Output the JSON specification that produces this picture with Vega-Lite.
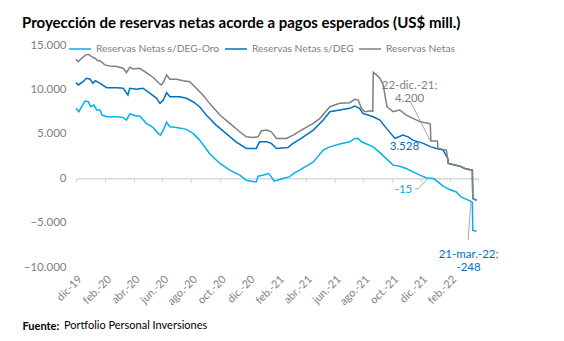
{
  "$schema": "https://vega.github.io/schema/vega-lite/v6.json",
  "width": 402,
  "height": 222,
  "autosize": {"type": "none"},
  "padding": {"left": 76, "top": 45, "right": 86, "bottom": 74},
  "background": "white",
  "config": {
    "view": {"stroke": null},
    "font": "Lato",
    "axis": {"grid": false},
    "legend": {
      "orient": "none",
      "legendY": -8,
      "direction": "horizontal",
      "title": null,
      "symbolType": "stroke",
      "symbolSize": 484,
      "symbolStrokeWidth": 1.5,
      "labelFont": "Lato",
      "labelFontSize": 10.3,
      "labelColor": "#7f7f7f",
      "labelOffset": 4
    }
  },
  "title": {
    "text": "Proyección de reservas netas acorde a pagos esperados (US$ mill.)",
    "anchor": "start",
    "frame": "group",
    "dx": -54,
    "offset": 6,
    "fontSize": 15,
    "fontWeight": "bold",
    "font": "Lato",
    "color": "#000000"
  },
  "datasets": {
    "series": [
      {"serie": "Reservas Netas", "fecha": "2019-12-01", "valor": 13400},
      {"serie": "Reservas Netas", "fecha": "2019-12-06", "valor": 13130},
      {"serie": "Reservas Netas", "fecha": "2019-12-13", "valor": 13510},
      {"serie": "Reservas Netas", "fecha": "2019-12-22", "valor": 13890},
      {"serie": "Reservas Netas", "fecha": "2019-12-27", "valor": 13960},
      {"serie": "Reservas Netas", "fecha": "2020-01-03", "valor": 13700},
      {"serie": "Reservas Netas", "fecha": "2020-01-10", "valor": 13510},
      {"serie": "Reservas Netas", "fecha": "2020-01-16", "valor": 13240},
      {"serie": "Reservas Netas", "fecha": "2020-01-21", "valor": 13240},
      {"serie": "Reservas Netas", "fecha": "2020-01-31", "valor": 12760},
      {"serie": "Reservas Netas", "fecha": "2020-02-11", "valor": 12640},
      {"serie": "Reservas Netas", "fecha": "2020-02-25", "valor": 12570},
      {"serie": "Reservas Netas", "fecha": "2020-03-10", "valor": 12380},
      {"serie": "Reservas Netas", "fecha": "2020-03-17", "valor": 11890},
      {"serie": "Reservas Netas", "fecha": "2020-03-24", "valor": 12500},
      {"serie": "Reservas Netas", "fecha": "2020-03-31", "valor": 12310},
      {"serie": "Reservas Netas", "fecha": "2020-04-14", "valor": 12380},
      {"serie": "Reservas Netas", "fecha": "2020-04-28", "valor": 11890},
      {"serie": "Reservas Netas", "fecha": "2020-05-12", "valor": 11370},
      {"serie": "Reservas Netas", "fecha": "2020-05-25", "valor": 10690},
      {"serie": "Reservas Netas", "fecha": "2020-05-30", "valor": 10500},
      {"serie": "Reservas Netas", "fecha": "2020-06-04", "valor": 10870},
      {"serie": "Reservas Netas", "fecha": "2020-06-10", "valor": 11630},
      {"serie": "Reservas Netas", "fecha": "2020-06-17", "valor": 11140},
      {"serie": "Reservas Netas", "fecha": "2020-07-01", "valor": 11140},
      {"serie": "Reservas Netas", "fecha": "2020-07-15", "valor": 10980},
      {"serie": "Reservas Netas", "fecha": "2020-07-29", "valor": 10870},
      {"serie": "Reservas Netas", "fecha": "2020-08-12", "valor": 10130},
      {"serie": "Reservas Netas", "fecha": "2020-08-26", "valor": 9370},
      {"serie": "Reservas Netas", "fecha": "2020-09-09", "valor": 8430},
      {"serie": "Reservas Netas", "fecha": "2020-10-01", "valor": 7110},
      {"serie": "Reservas Netas", "fecha": "2020-10-22", "valor": 6180},
      {"serie": "Reservas Netas", "fecha": "2020-11-12", "valor": 5230},
      {"serie": "Reservas Netas", "fecha": "2020-11-26", "valor": 4660},
      {"serie": "Reservas Netas", "fecha": "2020-12-10", "valor": 4590},
      {"serie": "Reservas Netas", "fecha": "2020-12-21", "valor": 4660},
      {"serie": "Reservas Netas", "fecha": "2020-12-28", "valor": 5340},
      {"serie": "Reservas Netas", "fecha": "2021-01-08", "valor": 5420},
      {"serie": "Reservas Netas", "fecha": "2021-01-18", "valor": 5230},
      {"serie": "Reservas Netas", "fecha": "2021-01-29", "valor": 4480},
      {"serie": "Reservas Netas", "fecha": "2021-02-19", "valor": 4480},
      {"serie": "Reservas Netas", "fecha": "2021-03-05", "valor": 4860},
      {"serie": "Reservas Netas", "fecha": "2021-03-19", "valor": 5300},
      {"serie": "Reservas Netas", "fecha": "2021-04-17", "valor": 6180},
      {"serie": "Reservas Netas", "fecha": "2021-05-01", "valor": 6740},
      {"serie": "Reservas Netas", "fecha": "2021-05-22", "valor": 8050},
      {"serie": "Reservas Netas", "fecha": "2021-06-12", "valor": 8430},
      {"serie": "Reservas Netas", "fecha": "2021-07-03", "valor": 8500},
      {"serie": "Reservas Netas", "fecha": "2021-07-14", "valor": 8880},
      {"serie": "Reservas Netas", "fecha": "2021-07-21", "valor": 8800},
      {"serie": "Reservas Netas", "fecha": "2021-07-28", "valor": 7870},
      {"serie": "Reservas Netas", "fecha": "2021-08-04", "valor": 7490},
      {"serie": "Reservas Netas", "fecha": "2021-08-18", "valor": 7600},
      {"serie": "Reservas Netas", "fecha": "2021-08-21", "valor": 7550},
      {"serie": "Reservas Netas", "fecha": "2021-08-22", "valor": 11930},
      {"serie": "Reservas Netas", "fecha": "2021-08-29", "valor": 11630},
      {"serie": "Reservas Netas", "fecha": "2021-09-05", "valor": 11260},
      {"serie": "Reservas Netas", "fecha": "2021-09-12", "valor": 10500},
      {"serie": "Reservas Netas", "fecha": "2021-09-20", "valor": 8050},
      {"serie": "Reservas Netas", "fecha": "2021-10-03", "valor": 7490},
      {"serie": "Reservas Netas", "fecha": "2021-10-17", "valor": 7680},
      {"serie": "Reservas Netas", "fecha": "2021-10-31", "valor": 7110},
      {"serie": "Reservas Netas", "fecha": "2021-11-14", "valor": 6740},
      {"serie": "Reservas Netas", "fecha": "2021-11-29", "valor": 6370},
      {"serie": "Reservas Netas", "fecha": "2021-12-16", "valor": 6180},
      {"serie": "Reservas Netas", "fecha": "2021-12-21", "valor": 6100},
      {"serie": "Reservas Netas", "fecha": "2021-12-22", "valor": 4200},
      {"serie": "Reservas Netas", "fecha": "2022-01-05", "valor": 4200},
      {"serie": "Reservas Netas", "fecha": "2022-01-06", "valor": 3350},
      {"serie": "Reservas Netas", "fecha": "2022-01-24", "valor": 3160},
      {"serie": "Reservas Netas", "fecha": "2022-01-28", "valor": 1660},
      {"serie": "Reservas Netas", "fecha": "2022-02-22", "valor": 1350},
      {"serie": "Reservas Netas", "fecha": "2022-03-04", "valor": 1090},
      {"serie": "Reservas Netas", "fecha": "2022-03-20", "valor": 900},
      {"serie": "Reservas Netas", "fecha": "2022-03-21", "valor": -2290},
      {"serie": "Reservas Netas", "fecha": "2022-03-29", "valor": -2480},

      {"serie": "Reservas Netas s/DEG", "fecha": "2019-12-01", "valor": 10760},
      {"serie": "Reservas Netas s/DEG", "fecha": "2019-12-06", "valor": 10500},
      {"serie": "Reservas Netas s/DEG", "fecha": "2019-12-16", "valor": 10870},
      {"serie": "Reservas Netas s/DEG", "fecha": "2019-12-23", "valor": 11250},
      {"serie": "Reservas Netas s/DEG", "fecha": "2019-12-31", "valor": 11140},
      {"serie": "Reservas Netas s/DEG", "fecha": "2020-01-06", "valor": 10690},
      {"serie": "Reservas Netas s/DEG", "fecha": "2020-01-11", "valor": 10980},
      {"serie": "Reservas Netas s/DEG", "fecha": "2020-01-21", "valor": 10690},
      {"serie": "Reservas Netas s/DEG", "fecha": "2020-02-04", "valor": 10190},
      {"serie": "Reservas Netas s/DEG", "fecha": "2020-02-25", "valor": 10190},
      {"serie": "Reservas Netas s/DEG", "fecha": "2020-03-10", "valor": 10130},
      {"serie": "Reservas Netas s/DEG", "fecha": "2020-03-20", "valor": 9370},
      {"serie": "Reservas Netas s/DEG", "fecha": "2020-03-24", "valor": 10130},
      {"serie": "Reservas Netas s/DEG", "fecha": "2020-04-07", "valor": 10010},
      {"serie": "Reservas Netas s/DEG", "fecha": "2020-04-21", "valor": 10130},
      {"serie": "Reservas Netas s/DEG", "fecha": "2020-05-06", "valor": 9560},
      {"serie": "Reservas Netas s/DEG", "fecha": "2020-05-20", "valor": 9000},
      {"serie": "Reservas Netas s/DEG", "fecha": "2020-05-27", "valor": 8430},
      {"serie": "Reservas Netas s/DEG", "fecha": "2020-06-03", "valor": 8800},
      {"serie": "Reservas Netas s/DEG", "fecha": "2020-06-10", "valor": 9630},
      {"serie": "Reservas Netas s/DEG", "fecha": "2020-06-17", "valor": 9180},
      {"serie": "Reservas Netas s/DEG", "fecha": "2020-07-08", "valor": 9180},
      {"serie": "Reservas Netas s/DEG", "fecha": "2020-07-22", "valor": 9000},
      {"serie": "Reservas Netas s/DEG", "fecha": "2020-08-05", "valor": 8610},
      {"serie": "Reservas Netas s/DEG", "fecha": "2020-08-19", "valor": 8050},
      {"serie": "Reservas Netas s/DEG", "fecha": "2020-09-02", "valor": 7110},
      {"serie": "Reservas Netas s/DEG", "fecha": "2020-09-23", "valor": 5980},
      {"serie": "Reservas Netas s/DEG", "fecha": "2020-10-14", "valor": 5050},
      {"serie": "Reservas Netas s/DEG", "fecha": "2020-11-04", "valor": 4100},
      {"serie": "Reservas Netas s/DEG", "fecha": "2020-11-26", "valor": 3350},
      {"serie": "Reservas Netas s/DEG", "fecha": "2020-12-17", "valor": 3350},
      {"serie": "Reservas Netas s/DEG", "fecha": "2020-12-24", "valor": 4100},
      {"serie": "Reservas Netas s/DEG", "fecha": "2021-01-08", "valor": 4100},
      {"serie": "Reservas Netas s/DEG", "fecha": "2021-01-18", "valor": 3920},
      {"serie": "Reservas Netas s/DEG", "fecha": "2021-01-29", "valor": 3350},
      {"serie": "Reservas Netas s/DEG", "fecha": "2021-02-22", "valor": 3460},
      {"serie": "Reservas Netas s/DEG", "fecha": "2021-03-05", "valor": 3920},
      {"serie": "Reservas Netas s/DEG", "fecha": "2021-03-19", "valor": 4370},
      {"serie": "Reservas Netas s/DEG", "fecha": "2021-04-17", "valor": 5420},
      {"serie": "Reservas Netas s/DEG", "fecha": "2021-05-08", "valor": 6550},
      {"serie": "Reservas Netas s/DEG", "fecha": "2021-05-22", "valor": 7490},
      {"serie": "Reservas Netas s/DEG", "fecha": "2021-06-12", "valor": 7680},
      {"serie": "Reservas Netas s/DEG", "fecha": "2021-07-03", "valor": 7870},
      {"serie": "Reservas Netas s/DEG", "fecha": "2021-07-14", "valor": 8130},
      {"serie": "Reservas Netas s/DEG", "fecha": "2021-07-24", "valor": 7870},
      {"serie": "Reservas Netas s/DEG", "fecha": "2021-07-31", "valor": 7300},
      {"serie": "Reservas Netas s/DEG", "fecha": "2021-08-22", "valor": 6920},
      {"serie": "Reservas Netas s/DEG", "fecha": "2021-09-05", "valor": 6550},
      {"serie": "Reservas Netas s/DEG", "fecha": "2021-09-19", "valor": 5610},
      {"serie": "Reservas Netas s/DEG", "fecha": "2021-10-07", "valor": 4480},
      {"serie": "Reservas Netas s/DEG", "fecha": "2021-10-24", "valor": 4860},
      {"serie": "Reservas Netas s/DEG", "fecha": "2021-11-04", "valor": 4660},
      {"serie": "Reservas Netas s/DEG", "fecha": "2021-11-14", "valor": 4290},
      {"serie": "Reservas Netas s/DEG", "fecha": "2021-12-06", "valor": 3920},
      {"serie": "Reservas Netas s/DEG", "fecha": "2021-12-22", "valor": 3528},
      {"serie": "Reservas Netas s/DEG", "fecha": "2022-01-03", "valor": 3350},
      {"serie": "Reservas Netas s/DEG", "fecha": "2022-01-17", "valor": 3160},
      {"serie": "Reservas Netas s/DEG", "fecha": "2022-01-27", "valor": 2220},
      {"serie": "Reservas Netas s/DEG", "fecha": "2022-01-28", "valor": 1660},
      {"serie": "Reservas Netas s/DEG", "fecha": "2022-02-22", "valor": 1350},
      {"serie": "Reservas Netas s/DEG", "fecha": "2022-03-04", "valor": 1090},
      {"serie": "Reservas Netas s/DEG", "fecha": "2022-03-20", "valor": 900},
      {"serie": "Reservas Netas s/DEG", "fecha": "2022-03-21", "valor": -2290},
      {"serie": "Reservas Netas s/DEG", "fecha": "2022-03-29", "valor": -2480},

      {"serie": "Reservas Netas s/DEG-Oro", "fecha": "2019-12-01", "valor": 7870},
      {"serie": "Reservas Netas s/DEG-Oro", "fecha": "2019-12-07", "valor": 7490},
      {"serie": "Reservas Netas s/DEG-Oro", "fecha": "2019-12-13", "valor": 8050},
      {"serie": "Reservas Netas s/DEG-Oro", "fecha": "2019-12-20", "valor": 8690},
      {"serie": "Reservas Netas s/DEG-Oro", "fecha": "2019-12-27", "valor": 8610},
      {"serie": "Reservas Netas s/DEG-Oro", "fecha": "2020-01-01", "valor": 8050},
      {"serie": "Reservas Netas s/DEG-Oro", "fecha": "2020-01-08", "valor": 8240},
      {"serie": "Reservas Netas s/DEG-Oro", "fecha": "2020-01-14", "valor": 7680},
      {"serie": "Reservas Netas s/DEG-Oro", "fecha": "2020-01-21", "valor": 7680},
      {"serie": "Reservas Netas s/DEG-Oro", "fecha": "2020-01-25", "valor": 7110},
      {"serie": "Reservas Netas s/DEG-Oro", "fecha": "2020-02-04", "valor": 6920},
      {"serie": "Reservas Netas s/DEG-Oro", "fecha": "2020-02-25", "valor": 6920},
      {"serie": "Reservas Netas s/DEG-Oro", "fecha": "2020-03-10", "valor": 6850},
      {"serie": "Reservas Netas s/DEG-Oro", "fecha": "2020-03-17", "valor": 6550},
      {"serie": "Reservas Netas s/DEG-Oro", "fecha": "2020-03-24", "valor": 7230},
      {"serie": "Reservas Netas s/DEG-Oro", "fecha": "2020-04-07", "valor": 7000},
      {"serie": "Reservas Netas s/DEG-Oro", "fecha": "2020-04-14", "valor": 7000},
      {"serie": "Reservas Netas s/DEG-Oro", "fecha": "2020-04-28", "valor": 6180},
      {"serie": "Reservas Netas s/DEG-Oro", "fecha": "2020-05-12", "valor": 5720},
      {"serie": "Reservas Netas s/DEG-Oro", "fecha": "2020-05-23", "valor": 5050},
      {"serie": "Reservas Netas s/DEG-Oro", "fecha": "2020-05-28", "valor": 4860},
      {"serie": "Reservas Netas s/DEG-Oro", "fecha": "2020-06-03", "valor": 5420},
      {"serie": "Reservas Netas s/DEG-Oro", "fecha": "2020-06-10", "valor": 6290},
      {"serie": "Reservas Netas s/DEG-Oro", "fecha": "2020-06-17", "valor": 5790},
      {"serie": "Reservas Netas s/DEG-Oro", "fecha": "2020-07-01", "valor": 5720},
      {"serie": "Reservas Netas s/DEG-Oro", "fecha": "2020-07-22", "valor": 5500},
      {"serie": "Reservas Netas s/DEG-Oro", "fecha": "2020-08-05", "valor": 5050},
      {"serie": "Reservas Netas s/DEG-Oro", "fecha": "2020-08-19", "valor": 4290},
      {"serie": "Reservas Netas s/DEG-Oro", "fecha": "2020-09-09", "valor": 2790},
      {"serie": "Reservas Netas s/DEG-Oro", "fecha": "2020-10-01", "valor": 1660},
      {"serie": "Reservas Netas s/DEG-Oro", "fecha": "2020-10-22", "valor": 900},
      {"serie": "Reservas Netas s/DEG-Oro", "fecha": "2020-11-12", "valor": 340},
      {"serie": "Reservas Netas s/DEG-Oro", "fecha": "2020-11-26", "valor": -230},
      {"serie": "Reservas Netas s/DEG-Oro", "fecha": "2020-12-17", "valor": -420},
      {"serie": "Reservas Netas s/DEG-Oro", "fecha": "2020-12-21", "valor": 230},
      {"serie": "Reservas Netas s/DEG-Oro", "fecha": "2020-12-31", "valor": 340},
      {"serie": "Reservas Netas s/DEG-Oro", "fecha": "2021-01-12", "valor": 530},
      {"serie": "Reservas Netas s/DEG-Oro", "fecha": "2021-01-18", "valor": 150},
      {"serie": "Reservas Netas s/DEG-Oro", "fecha": "2021-01-24", "valor": -340},
      {"serie": "Reservas Netas s/DEG-Oro", "fecha": "2021-02-11", "valor": -30},
      {"serie": "Reservas Netas s/DEG-Oro", "fecha": "2021-02-25", "valor": 150},
      {"serie": "Reservas Netas s/DEG-Oro", "fecha": "2021-03-08", "valor": 600},
      {"serie": "Reservas Netas s/DEG-Oro", "fecha": "2021-03-19", "valor": 900},
      {"serie": "Reservas Netas s/DEG-Oro", "fecha": "2021-04-17", "valor": 1840},
      {"serie": "Reservas Netas s/DEG-Oro", "fecha": "2021-05-08", "valor": 3160},
      {"serie": "Reservas Netas s/DEG-Oro", "fecha": "2021-05-22", "valor": 3530},
      {"serie": "Reservas Netas s/DEG-Oro", "fecha": "2021-06-12", "valor": 3840},
      {"serie": "Reservas Netas s/DEG-Oro", "fecha": "2021-07-03", "valor": 4100},
      {"serie": "Reservas Netas s/DEG-Oro", "fecha": "2021-07-14", "valor": 4480},
      {"serie": "Reservas Netas s/DEG-Oro", "fecha": "2021-07-21", "valor": 4480},
      {"serie": "Reservas Netas s/DEG-Oro", "fecha": "2021-07-28", "valor": 4100},
      {"serie": "Reservas Netas s/DEG-Oro", "fecha": "2021-08-22", "valor": 3530},
      {"serie": "Reservas Netas s/DEG-Oro", "fecha": "2021-09-05", "valor": 2880},
      {"serie": "Reservas Netas s/DEG-Oro", "fecha": "2021-10-03", "valor": 1470},
      {"serie": "Reservas Netas s/DEG-Oro", "fecha": "2021-10-17", "valor": 1350},
      {"serie": "Reservas Netas s/DEG-Oro", "fecha": "2021-10-31", "valor": 1090},
      {"serie": "Reservas Netas s/DEG-Oro", "fecha": "2021-11-14", "valor": 710},
      {"serie": "Reservas Netas s/DEG-Oro", "fecha": "2021-11-29", "valor": 340},
      {"serie": "Reservas Netas s/DEG-Oro", "fecha": "2021-12-13", "valor": 20},
      {"serie": "Reservas Netas s/DEG-Oro", "fecha": "2021-12-22", "valor": -15},
      {"serie": "Reservas Netas s/DEG-Oro", "fecha": "2021-12-29", "valor": -60},
      {"serie": "Reservas Netas s/DEG-Oro", "fecha": "2022-01-06", "valor": -420},
      {"serie": "Reservas Netas s/DEG-Oro", "fecha": "2022-01-17", "valor": -900},
      {"serie": "Reservas Netas s/DEG-Oro", "fecha": "2022-01-31", "valor": -1280},
      {"serie": "Reservas Netas s/DEG-Oro", "fecha": "2022-02-14", "valor": -1550},
      {"serie": "Reservas Netas s/DEG-Oro", "fecha": "2022-02-24", "valor": -2110},
      {"serie": "Reservas Netas s/DEG-Oro", "fecha": "2022-03-15", "valor": -2560},
      {"serie": "Reservas Netas s/DEG-Oro", "fecha": "2022-03-20", "valor": -2700},
      {"serie": "Reservas Netas s/DEG-Oro", "fecha": "2022-03-21", "valor": -5870},
      {"serie": "Reservas Netas s/DEG-Oro", "fecha": "2022-03-29", "valor": -5980}
    ],
    "etiquetas": [
      {"texto": "22-dic.-21;\n4.200", "fecha": "2021-11-07", "valor": 10400, "color": "#7f7f7f", "peso": "normal"},
      {"texto": "3.528", "fecha": "2021-10-27", "valor": 3470, "color": "#0070c0", "peso": "bold"},
      {"texto": "-15", "fecha": "2021-10-25", "valor": -1320, "color": "#00b0f0", "peso": "bold"},
      {"texto": "21-mar.-22;\n-248", "fecha": "2022-03-12", "valor": -8680, "color": "#0070c0", "peso": "bold"}
    ],
    "guias": [
      {"id": "a", "fecha": "2021-11-08", "valor": 8740},
      {"id": "a", "fecha": "2021-12-20", "valor": 4310},
      {"id": "b", "fecha": "2021-11-18", "valor": -1200},
      {"id": "b", "fecha": "2021-11-25", "valor": -1200},
      {"id": "b", "fecha": "2021-12-16", "valor": 0},
      {"id": "c", "fecha": "2022-03-11", "valor": -6950},
      {"id": "c", "fecha": "2022-03-17", "valor": -2660}
    ]
  },
  "layer": [
    {
      "data": {"name": "guias"},
      "mark": {"type": "line", "color": "#a6a6a6", "strokeWidth": 1},
      "encoding": {
        "x": {
          "field": "fecha", "type": "temporal",
          "scale": {"type": "utc", "domain": [{"year": 2019, "month": 12, "date": 1, "utc": true}, {"year": 2022, "month": 4, "date": 1, "utc": true}]},
          "axis": {
            "orient": "bottom",
            "offset": -88.8,
            "values": [
              {"year": 2019, "month": 12, "date": 1, "utc": true},
              {"year": 2020, "month": 2, "date": 1, "utc": true},
              {"year": 2020, "month": 4, "date": 1, "utc": true},
              {"year": 2020, "month": 6, "date": 1, "utc": true},
              {"year": 2020, "month": 8, "date": 1, "utc": true},
              {"year": 2020, "month": 10, "date": 1, "utc": true},
              {"year": 2020, "month": 12, "date": 1, "utc": true},
              {"year": 2021, "month": 2, "date": 1, "utc": true},
              {"year": 2021, "month": 4, "date": 1, "utc": true},
              {"year": 2021, "month": 6, "date": 1, "utc": true},
              {"year": 2021, "month": 8, "date": 1, "utc": true},
              {"year": 2021, "month": 10, "date": 1, "utc": true},
              {"year": 2021, "month": 12, "date": 1, "utc": true},
              {"year": 2022, "month": 2, "date": 1, "utc": true},
              {"year": 2022, "month": 4, "date": 1, "utc": true}
            ],
            "labels": false,
            "domainColor": "#d9d9d9",
            "domainWidth": 1.5,
            "tickColor": "#d9d9d9",
            "tickSize": 4,
            "tickWidth": 1,
            "title": "Portfolio Personal Inversiones",
            "titleFont": "Lato",
            "titleFontSize": 11,
            "titleFontWeight": "normal",
            "titleColor": "#000000",
            "titleAlign": "left",
            "titleBaseline": "middle",
            "titleX": -12.5,
            "titleY": 147.7
          }
        },
        "y": {"field": "valor", "type": "quantitative"},
        "detail": {"field": "id"}
      }
    },
    {
      "data": {"name": "series"},
      "transform": [{"filter": "datum.serie === 'Reservas Netas s/DEG-Oro'"}],
      "mark": {"type": "line", "strokeWidth": 1.5},
      "encoding": {
        "x": {
          "field": "fecha", "type": "temporal",
          "axis": {
            "orient": "bottom",
            "values": [
              {"year": 2019, "month": 12, "date": 1, "utc": true},
              {"year": 2020, "month": 2, "date": 1, "utc": true},
              {"year": 2020, "month": 4, "date": 1, "utc": true},
              {"year": 2020, "month": 6, "date": 1, "utc": true},
              {"year": 2020, "month": 8, "date": 1, "utc": true},
              {"year": 2020, "month": 10, "date": 1, "utc": true},
              {"year": 2020, "month": 12, "date": 1, "utc": true},
              {"year": 2021, "month": 2, "date": 1, "utc": true},
              {"year": 2021, "month": 4, "date": 1, "utc": true},
              {"year": 2021, "month": 6, "date": 1, "utc": true},
              {"year": 2021, "month": 8, "date": 1, "utc": true},
              {"year": 2021, "month": 10, "date": 1, "utc": true},
              {"year": 2021, "month": 12, "date": 1, "utc": true},
              {"year": 2022, "month": 2, "date": 1, "utc": true}
            ],
            "labelExpr": "utcyear(datum.value) == 2019 ? 'dic-19' : ['ene.','feb.','mar.','abr.','may.','jun.','jul.','ago.','sep.','oct.','nov.','dic.'][utcmonth(datum.value)] + '-' + utcFormat(datum.value, '%y')",
            "labelAngle": -45,
            "labelFont": "Lato",
            "labelFontSize": 11,
            "labelColor": "#7f7f7f",
            "labelPadding": 6,
            "labelFlush": false,
            "labelOverlap": false,
            "domain": false,
            "ticks": false,
            "title": "Fuente:",
            "titleFont": "Lato",
            "titleFontSize": 11,
            "titleFontWeight": "bold",
            "titleColor": "#000000",
            "titleAlign": "left",
            "titleBaseline": "middle",
            "titleX": -54,
            "titleY": 59.3
          }
        },
        "y": {
          "field": "valor", "type": "quantitative",
          "scale": {"domain": [-10000, 15000], "nice": false, "zero": false},
          "axis": {
            "values": [-10000, -5000, 0, 5000, 10000, 15000],
            "labelExpr": "replace(format(datum.value, ','), /,/g, '.')",
            "labelFont": "Lato",
            "labelFontSize": 11.5,
            "labelColor": "#7f7f7f",
            "labelPadding": 10,
            "domain": false,
            "ticks": false,
            "title": null
          }
        },
        "color": {
          "field": "serie", "type": "nominal",
          "scale": {"domain": ["Reservas Netas s/DEG-Oro"], "range": ["#00b0f0"]},
          "legend": {"legendX": -8}
        },
        "order": {"field": "fecha", "type": "temporal"}
      }
    },
    {
      "data": {"name": "series"},
      "transform": [{"filter": "datum.serie === 'Reservas Netas s/DEG'"}],
      "mark": {"type": "line", "strokeWidth": 1.5},
      "encoding": {
        "x": {"field": "fecha", "type": "temporal", "axis": null},
        "y": {"field": "valor", "type": "quantitative"},
        "color": {
          "field": "serie", "type": "nominal",
          "scale": {"domain": ["Reservas Netas s/DEG"], "range": ["#0070c0"]},
          "legend": {"legendX": 148}
        },
        "order": {"field": "fecha", "type": "temporal"}
      }
    },
    {
      "data": {"name": "series"},
      "transform": [{"filter": "datum.serie === 'Reservas Netas'"}],
      "mark": {"type": "line", "strokeWidth": 1.5},
      "encoding": {
        "x": {"field": "fecha", "type": "temporal", "axis": null},
        "y": {"field": "valor", "type": "quantitative"},
        "color": {
          "field": "serie", "type": "nominal",
          "scale": {"domain": ["Reservas Netas"], "range": ["#7f7f7f"]},
          "legend": {"legendX": 282}
        },
        "order": {"field": "fecha", "type": "temporal"}
      }
    },
    {
      "data": {"name": "etiquetas"},
      "mark": {"type": "text", "lineBreak": "\n", "fontSize": 11.5, "font": "Lato", "align": "center", "baseline": "middle", "lineHeight": 13},
      "encoding": {
        "x": {"field": "fecha", "type": "temporal", "axis": null},
        "y": {"field": "valor", "type": "quantitative"},
        "text": {"field": "texto"},
        "color": {"field": "color", "type": "nominal", "scale": null},
        "fontWeight": {"field": "peso", "type": "nominal", "scale": null}
      }
    }
  ],
  "resolve": {"axis": {"x": "independent"}, "scale": {"color": "independent"}}
}
